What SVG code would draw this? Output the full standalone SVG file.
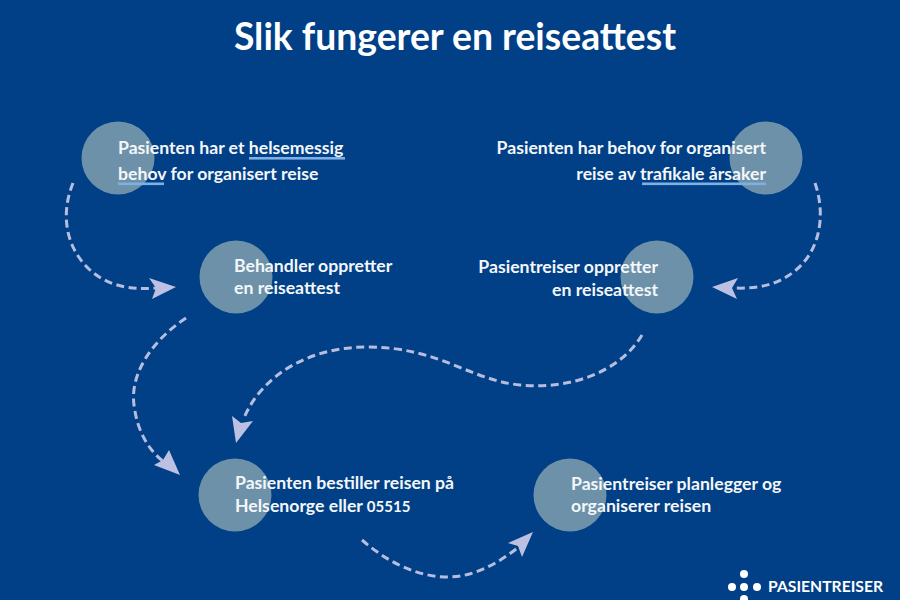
<svg xmlns="http://www.w3.org/2000/svg" width="900" height="600" viewBox="0 0 900 600">
<style>
.c{fill:#6d91a8}
.t{font-family:"Lato","Open Sans","Liberation Sans",sans-serif;font-weight:700;font-size:17.65px;fill:#f4f7fa}
.e{text-anchor:end}
.u{fill:#7db0e4}
.d{fill:none;stroke:#b7bde0;stroke-width:3;stroke-dasharray:8 4.5}
.a{fill:#bcc0e2}
</style>
<rect width="900" height="600" fill="#014086"/>
<text x="455" y="50" text-anchor="middle" font-family="Lato,'Open Sans','Liberation Sans',sans-serif" font-weight="700" font-size="37.3" fill="#ffffff">Slik fungerer en reiseattest</text>
<g id="connectors">
<path class="d" d="M73 183C60 215 66 248 90 270C108 286 130 290 156 288"/>
<path class="a" d="M176 287L149 278L156 288L152 299Z"/>
<path class="d" d="M815 183C826 215 820 250 796 270C778 285 758 289 734 288"/>
<path class="a" d="M712 287L738 278L732 288L737 299Z"/>
<path class="d" d="M186 318C150 342 130 375 134 405C137 430 148 450 164 462"/>
<path class="a" d="M180 475L154 465L163 460L169 450Z"/>
<path class="d" d="M642 335C620 372 570 390 520 385C470 380 440 348 370 347C310 346 262 375 244 418"/>
<path class="a" d="M236 443L232 416L241 423L253 421Z"/>
<path class="d" d="M362 540C385 560 415 577 448 577C475 577 500 562 520 546"/>
<path class="a" d="M533 532L508 543L518 546L522 557Z"/>
</g>
<g id="n1"><circle class="c" cx="118" cy="158" r="36.5"/><rect class="u" x="249" y="157" width="96" height="2.6"/><rect class="u" x="118" y="182.5" width="46" height="2.6"/><text class="t" x="118" y="154">Pasienten har et helsemessig</text><text class="t" x="118" y="180">behov for organisert reise</text></g>
<g id="n2"><circle class="c" cx="766" cy="158" r="36.5"/><rect class="u" x="642" y="182.5" width="124" height="2.6"/><text class="t e" x="766" y="154">Pasienten har behov for organisert</text><text class="t e" x="766" y="180">reise av trafikale årsaker</text></g>
<g id="n3"><circle class="c" cx="236" cy="277" r="36.5"/><text class="t" x="234" y="272">Behandler oppretter</text><text class="t" x="234" y="294">en reiseattest</text></g>
<g id="n4"><circle class="c" cx="657" cy="277" r="36.5"/><text class="t e" x="658" y="273">Pasientreiser oppretter</text><text class="t e" x="658" y="296">en reiseattest</text></g>
<g id="n5"><circle class="c" cx="235" cy="495" r="36.5"/><text class="t" x="235" y="489">Pasienten bestiller reisen på</text><text class="t" x="235" y="512">Helsenorge eller <tspan font-size="15">05515</tspan></text></g>
<g id="n6"><circle class="c" cx="570" cy="495" r="36.5"/><text class="t" x="571" y="490">Pasientreiser planlegger og</text><text class="t" x="571" y="512">organiserer reisen</text></g>
<g id="logo" fill="#ffffff"><circle cx="744" cy="574" r="4"/><circle cx="732" cy="587" r="4"/><circle cx="744" cy="587" r="4"/><circle cx="757" cy="587" r="4"/><circle cx="744" cy="599" r="4"/><text x="768" y="592" font-family="Lato,'Open Sans',sans-serif" font-weight="700" font-size="15.7">PASIENTREISER</text></g>
</svg>
